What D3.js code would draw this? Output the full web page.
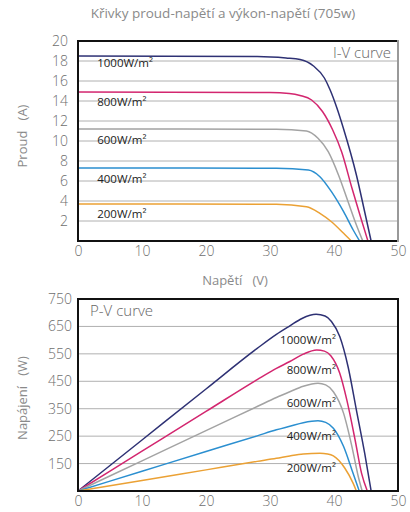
<!DOCTYPE html>
<meta charset="utf-8">
<script src="https://d3js.org/d3.v7.min.js"></script>
<style>
  body { margin: 0; background: #fff; }
  text { font-family: "Open Sans", Lato, sans-serif; }
</style>
<div id="chart"></div>
<script>

// series labels
var irradiance = ["1000W/m²", "800W/m²", "600W/m²", "400W/m²", "200W/m²"];

// I-V curves: [voltage V, current A]
var iv1000 = [[0,18.5],[28,18.45],[32.5,18.3],[34.7,18.15],[36.8,17.5],[38.5,16.3],[39.4,15.1],[40.4,13.4],[41.5,11.2],[43.5,6.6],[44.8,2.9],[45.8,0]];
var iv800  = [[0,14.9],[30,14.85],[33,14.75],[34.7,14.55],[36.5,14.1],[38.2,12.95],[39.8,11.1],[41.2,8.9],[42.8,5.3],[44.1,2.5],[45.3,0]];
var iv600  = [[0,11.2],[31,11.18],[35.7,11.0],[37.5,10.27],[39.1,8.93],[40.7,6.6],[42.2,3.93],[43.5,1.6],[44.5,0]];
var iv400  = [[0,7.3],[31,7.27],[36.0,7.1],[37.8,6.43],[39.6,4.93],[41.5,2.93],[43.0,1.1],[44.0,0]];
var iv200  = [[0,3.7],[31,3.68],[35.7,3.43],[37.8,2.77],[39.6,1.93],[41.5,0.77],[42.7,0]];

// P-V curves: [voltage V, power W]
var pv1000 = [[0,0],[10,236],[20,422],[28,570],[31,621],[33.1,652],[35,679],[37.2,694],[38.6,688],[39.6,668],[40.9,613],[42.2,503],[43.5,345],[44.8,187],[45.8,0]];
var pv800  = [[0,0],[10,195],[20,340],[28,456],[31,497],[33.1,522],[35.2,549],[37.3,564],[38.5,560],[39.5,543],[40.9,479],[42.0,382],[43.3,236],[44.3,115],[45.2,0]];
var pv600  = [[0,0],[10,160],[20,270],[28,358],[31,391],[33.1,412],[35.2,432],[37.5,443],[38.7,437],[39.9,412],[41.5,333],[42.8,212],[43.8,102],[44.4,0]];
var pv400  = [[0,0],[10,122],[20,194],[28,251],[31,273],[33.1,286],[35.2,299],[37.5,306],[38.7,300],[39.9,279],[41.5,212],[42.8,127],[43.95,0]];
var pv200  = [[0,0],[10,88],[20,127],[28,158],[31,169],[33.1,178],[35.2,185],[37.8,187.5],[39.0,185],[39.9,178],[41.7,133],[43.0,78],[43.5,0]];

// where each series label sits (chart units)
var ivLabelAt = [17.8, 13.9, 10.1, 6.2, 2.7];
var pvLabelAt = [600, 490, 370, 250, 135];

// ticks
var xTicks = [0, 10, 20, 30, 40, 50];
var ivTicks = [2, 4, 6, 8, 10, 12, 14, 16, 18, 20];
var pvTicks = [150, 250, 350, 450, 550, 650, 750];

var colors = ["#2e3174", "#d3266f", "#a3a3a3", "#2b8fd0", "#eba134"];

var svg = d3.select("#chart")
  .append("svg")
    .attr("width", 410)
    .attr("height", 512);

// title
svg.append("text")
  .attr("x", 223).attr("y", 18)
  .attr("text-anchor", "middle")
  .attr("font-size", 13.5)
  .attr("fill", "#8a8a8a")
  .text("Křivky proud-napětí a výkon-napětí (705w)");

// a function that draws one panel
function panel(o) {
  var x = d3.scaleLinear().domain([0, 50]).range([78, 398]);
  var y = d3.scaleLinear().domain(o.domain).range([o.bottom, o.top]).clamp(true);
  var g = svg.append("g");

  // grid
  g.selectAll(".grid")
    .data(o.ticks.filter(function(d) { return d < o.domain[1]; }))
    .enter().append("line")
      .attr("x1", x(0)).attr("x2", x(50))
      .attr("y1", function(d) { return y(d); })
      .attr("y2", function(d) { return y(d); })
      .attr("stroke", "#b0b0b0")
      .attr("stroke-width", 1);

  // axes labels
  var ya = g.append("g")
    .attr("transform", "translate(" + x(0) + ",0)")
    .call(d3.axisLeft(y).tickValues(o.ticks).tickSize(0).tickPadding(o.pad));
  var xa = g.append("g")
    .attr("transform", "translate(0," + o.bottom + ")")
    .call(d3.axisBottom(x).tickValues(xTicks).tickSize(0).tickPadding(5));
  [ya, xa].forEach(function(a) {
    a.select(".domain").remove();
    a.selectAll("text")
      .attr("font-family", "'Open Sans', Lato, sans-serif")
      .attr("font-weight", 300)
      .attr("font-size", 14)
      .attr("fill", "#6e6e6e");
  });

  // curves
  var line = d3.line()
    .x(function(d) { return x(d[0]); })
    .y(function(d) { return y(d[1]); })
    .curve(d3.curveMonotoneX);
  g.selectAll(".curve")
    .data(o.series)
    .enter().append("path")
      .attr("d", line)
      .attr("fill", "none")
      .attr("stroke", function(d, i) { return colors[i]; })
      .attr("stroke-width", 1.5);

  // series labels
  g.selectAll(".lab")
    .data(irradiance)
    .enter().append("text")
      .attr("x", x(o.labelV))
      .attr("y", function(d, i) { return y(o.labelAt[i]); })
      .attr("dy", "0.35em")
      .attr("text-anchor", o.anchor)
      .attr("font-size", 11.5)
      .attr("fill", "#222")
      .text(function(d) { return d; });

  // frame
  var fr = [
    [x(0), o.top, x(50), o.top, "#111"],
    [x(0), o.top, x(0), o.bottom, "#111"],
    [x(0), o.bottom, x(50), o.bottom, "#111"],
    [x(50), o.top, x(50), o.bottom, o.right]
  ];
  g.selectAll(".frame")
    .data(fr)
    .enter().append("line")
      .attr("x1", function(d) { return d[0]; })
      .attr("y1", function(d) { return d[1]; })
      .attr("x2", function(d) { return d[2]; })
      .attr("y2", function(d) { return d[3]; })
      .attr("stroke", function(d) { return d[4]; })
      .attr("stroke-width", 2)
      .attr("stroke-linecap", "square");

  // panel name
  g.append("text")
    .attr("x", o.nameX).attr("y", o.top + 17)
    .attr("text-anchor", o.nameAnchor)
    .attr("font-size", 15)
    .attr("font-weight", 300)
    .attr("fill", "#666")
    .text(o.name);

  // y title
  g.append("text")
    .attr("transform", "translate(27," + o.titleY + ") rotate(-90)")
    .attr("text-anchor", "middle")
    .attr("font-size", 13)
    .attr("fill", "#8a8a8a")
    .style("white-space", "pre")
    .text(o.yTitle);
}

panel({
  top: 41, bottom: 241, domain: [0, 20], ticks: ivTicks, pad: 10,
  series: [iv1000, iv800, iv600, iv400, iv200],
  labelAt: ivLabelAt, labelV: 3, anchor: "start",
  right: "#999", name: "I-V curve", nameX: 391, nameAnchor: "end",
  yTitle: "Proud   (A)", titleY: 136
});

panel({
  top: 299, bottom: 491, domain: [50, 750], ticks: pvTicks, pad: 6,
  series: [pv1000, pv800, pv600, pv400, pv200],
  labelAt: pvLabelAt, labelV: 40.3, anchor: "end",
  right: "#111", name: "P-V curve", nameX: 90, nameAnchor: "start",
  yTitle: "Napájení   (W)", titleY: 398
});

// x title
svg.append("text")
  .attr("x", 235).attr("y", 285)
  .attr("text-anchor", "middle")
  .attr("font-size", 13)
  .attr("fill", "#8a8a8a")
  .style("white-space", "pre")
  .text("Napětí   (V)");

</script>
